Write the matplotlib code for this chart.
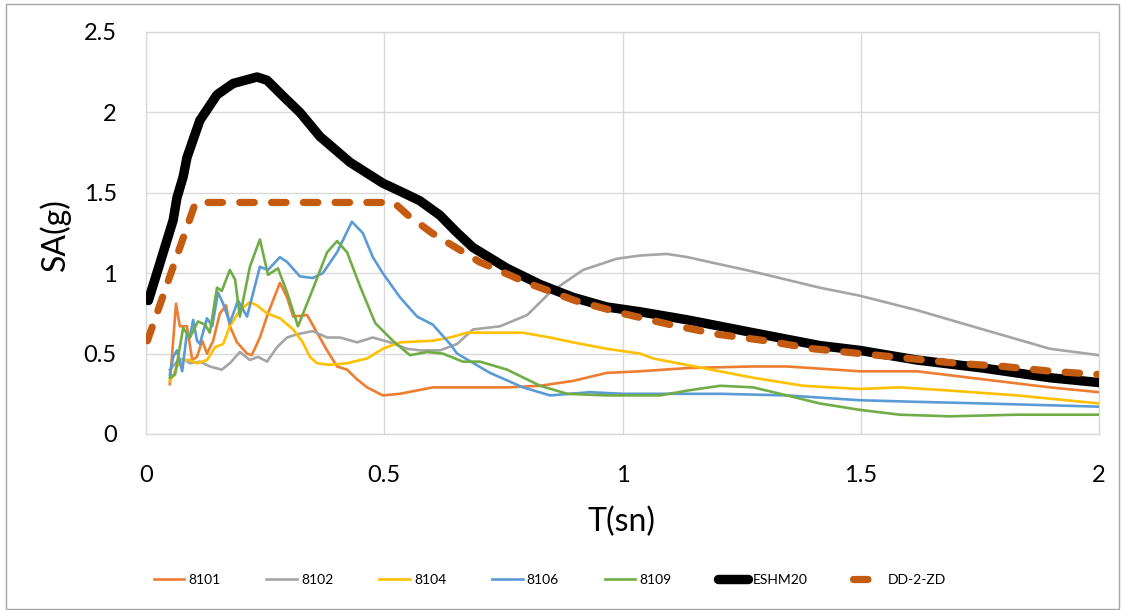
import matplotlib
matplotlib.use("Agg")
import matplotlib.pyplot as plt
from matplotlib.patches import Rectangle

plt.rcParams['font.family'] = ['Lato', 'DejaVu Sans']

# --------------------
# Data
# --------------------
T_8101 = [0.050, 0.063, 0.071, 0.086, 0.097, 0.107, 0.118, 0.128, 0.141, 0.155,
          0.168, 0.176, 0.191, 0.212, 0.222, 0.239, 0.256, 0.281, 0.296, 0.309,
          0.338, 0.359, 0.380, 0.401, 0.422, 0.443, 0.464, 0.497, 0.533, 0.602,
          0.638, 0.758, 0.827, 0.896, 0.967, 1.037, 1.136, 1.274, 1.345, 1.498,
          1.618, 1.757, 1.897, 2.0]
SA_8101 = [0.31, 0.81, 0.67, 0.67, 0.46, 0.48, 0.58, 0.50, 0.58, 0.75,
           0.80, 0.67, 0.57, 0.50, 0.49, 0.60, 0.75, 0.94, 0.85, 0.73,
           0.74, 0.63, 0.52, 0.42, 0.40, 0.34, 0.29, 0.24, 0.25, 0.29,
           0.29, 0.29, 0.30, 0.33, 0.38, 0.39, 0.41, 0.42, 0.42, 0.39,
           0.39, 0.34, 0.29, 0.26]

T_8102 = [0.050, 0.065, 0.078, 0.092, 0.113, 0.134, 0.159, 0.176, 0.197, 0.218,
          0.235, 0.254, 0.275, 0.296, 0.317, 0.350, 0.380, 0.407, 0.443, 0.476,
          0.512, 0.548, 0.575, 0.617, 0.653, 0.686, 0.743, 0.800, 0.848, 0.917,
          0.988, 1.037, 1.093, 1.136, 1.274, 1.414, 1.498, 1.618, 1.757, 1.897,
          2.0]
SA_8102 = [0.40, 0.45, 0.47, 0.44, 0.45, 0.42, 0.40, 0.44, 0.51, 0.46,
           0.48, 0.45, 0.54, 0.60, 0.62, 0.64, 0.60, 0.60, 0.57, 0.60,
           0.57, 0.53, 0.52, 0.52, 0.56, 0.65, 0.67, 0.74, 0.88, 1.02,
           1.09, 1.11, 1.12, 1.10, 1.01, 0.91, 0.86, 0.77, 0.65, 0.53,
           0.49]

T_8104 = [0.050, 0.057, 0.065, 0.078, 0.092, 0.107, 0.128, 0.145, 0.162, 0.176,
          0.197, 0.218, 0.233, 0.254, 0.281, 0.309, 0.329, 0.344, 0.359, 0.386,
          0.422, 0.464, 0.497, 0.533, 0.602, 0.638, 0.674, 0.791, 0.848, 0.896,
          0.967, 1.037, 1.064, 1.169, 1.274, 1.379, 1.498, 1.582, 1.687, 1.828,
          2.0]
SA_8104 = [0.33, 0.36, 0.42, 0.46, 0.46, 0.44, 0.46, 0.54, 0.56, 0.67,
           0.77, 0.82, 0.80, 0.75, 0.72, 0.65, 0.57, 0.48, 0.44, 0.43,
           0.44, 0.47, 0.53, 0.57, 0.58, 0.60, 0.63, 0.63, 0.60, 0.57,
           0.53, 0.50, 0.47, 0.41, 0.35, 0.30, 0.28, 0.29, 0.27, 0.24,
           0.19]

T_8106 = [0.050, 0.057, 0.065, 0.076, 0.086, 0.092, 0.099, 0.107, 0.113, 0.128,
          0.139, 0.151, 0.162, 0.176, 0.193, 0.212, 0.239, 0.256, 0.281, 0.296,
          0.323, 0.350, 0.371, 0.401, 0.432, 0.455, 0.476, 0.497, 0.533, 0.569,
          0.602, 0.638, 0.653, 0.722, 0.791, 0.848, 0.932, 1.001, 1.205, 1.345,
          1.498, 1.618, 1.757, 2.0]
SA_8106 = [0.37, 0.48, 0.52, 0.39, 0.63, 0.60, 0.71, 0.58, 0.56, 0.72,
           0.67, 0.88, 0.81, 0.69, 0.83, 0.73, 1.04, 1.02, 1.10, 1.07,
           0.98, 0.97, 1.00, 1.13, 1.32, 1.25, 1.10, 1.00, 0.85, 0.73,
           0.68, 0.56, 0.50, 0.38, 0.29, 0.24, 0.26, 0.25, 0.25, 0.24,
           0.21, 0.20, 0.19, 0.17]

T_8109 = [0.050, 0.061, 0.071, 0.078, 0.092, 0.109, 0.124, 0.134, 0.149, 0.159,
          0.176, 0.187, 0.197, 0.218, 0.239, 0.256, 0.277, 0.296, 0.319, 0.350,
          0.380, 0.401, 0.422, 0.449, 0.481, 0.518, 0.554, 0.590, 0.623, 0.665,
          0.701, 0.758, 0.827, 0.884, 0.967, 1.079, 1.136, 1.205, 1.274, 1.345,
          1.414, 1.498, 1.582, 1.687, 1.828, 2.0]
SA_8109 = [0.35, 0.37, 0.54, 0.66, 0.60, 0.70, 0.68, 0.63, 0.91, 0.89,
           1.02, 0.96, 0.73, 1.04, 1.21, 0.99, 1.03, 0.88, 0.67, 0.90,
           1.13, 1.20, 1.13, 0.92, 0.69, 0.58, 0.49, 0.51, 0.50, 0.45,
           0.45, 0.40, 0.30, 0.25, 0.24, 0.24, 0.27, 0.30, 0.29, 0.24,
           0.19, 0.15, 0.12, 0.11, 0.12, 0.12]

T_ESHM = [0.005, 0.029, 0.057, 0.065, 0.078, 0.086, 0.113, 0.149, 0.183, 0.233,
          0.254, 0.288, 0.323, 0.365, 0.428, 0.497, 0.533, 0.575, 0.617, 0.650,
          0.686, 0.758, 0.827, 0.896, 0.967, 1.037, 1.136, 1.274, 1.414, 1.498,
          1.618, 1.757, 1.897, 2.0]
SA_ESHM = [0.83, 1.06, 1.33, 1.47, 1.60, 1.72, 1.95, 2.11, 2.18, 2.22,
           2.20, 2.10, 2.00, 1.85, 1.69, 1.56, 1.51, 1.45, 1.36, 1.26,
           1.16, 1.03, 0.93, 0.85, 0.79, 0.76, 0.71, 0.63, 0.55, 0.52,
           0.46, 0.41, 0.35, 0.32]

T_DD = [0.003, 0.104, 0.52, 0.55, 0.6, 0.7, 0.8, 0.9, 1.0, 1.1,
        1.2, 1.3, 1.4, 1.5, 1.6, 1.7, 1.8, 1.9, 2.0]
SA_DD = [0.58, 1.44, 1.44, 1.36, 1.25, 1.07, 0.94, 0.83, 0.75, 0.68,
         0.62, 0.58, 0.53, 0.50, 0.47, 0.44, 0.42, 0.39, 0.37]

records = [
    ("8101", T_8101, SA_8101, "#ED7D31"),
    ("8102", T_8102, SA_8102, "#A5A5A5"),
    ("8104", T_8104, SA_8104, "#FFC000"),
    ("8106", T_8106, SA_8106, "#5B9BD5"),
    ("8109", T_8109, SA_8109, "#70AD47"),
]

fig = plt.figure(figsize=(11.22, 6.10), dpi=100)
ax = fig.add_axes([146 / 1122, 1 - 434 / 610, 953 / 1122, 402 / 610])

for name, t, sa, col in records:
    ax.plot(t, sa, color=col, linewidth=1.9, label=name, zorder=3,
            solid_joinstyle="round")

ax.plot(T_ESHM, SA_ESHM, color="black", linewidth=6.8, label="ESHM20",
        zorder=4, solid_capstyle="round", solid_joinstyle="round")
ax.plot(T_DD, SA_DD, color="#C55A11", linewidth=5.2, label="DD-2-ZD",
        zorder=5, dashes=(2.0, 2.4), dash_capstyle="round")

ax.set_xlim(0, 2)
ax.set_ylim(0, 2.5)
ax.set_xticks([0, 0.5, 1, 1.5, 2])
ax.set_xticklabels(["0", "0.5", "1", "1.5", "2"])
ax.set_yticks([0, 0.5, 1, 1.5, 2, 2.5])
ax.set_yticklabels(["0", "0.5", "1", "1.5", "2", "2.5"])
ax.tick_params(axis="both", length=0, labelsize=17)
ax.tick_params(axis="x", pad=22)
ax.tick_params(axis="y", pad=21)

ax.grid(True, color="#D9D9D9", linewidth=1.0, zorder=0)
ax.set_axisbelow(True)
for sp in ax.spines.values():
    sp.set_color("#D9D9D9")
    sp.set_linewidth(1.0)

fig.text(55 / 1122, 1 - 235 / 610, "SA(g)", rotation=90, ha="center",
         va="center", fontsize=23)
fig.text(622 / 1122, 1 - 522 / 610, "T(sn)", ha="center", va="center",
         fontsize=23)

fig.legend(loc="center", bbox_to_anchor=(0.49, 1 - 580 / 610), ncol=7,
           frameon=False, fontsize=10, handlelength=2.2, handletextpad=0.3,
           columnspacing=3.3)

fig.patches.append(Rectangle((6 / 1122, 1 - 609 / 610), 1113 / 1122, 605 / 610,
                             transform=fig.transFigure, fill=False,
                             edgecolor="#A6A6A6", linewidth=1.0))

fig.savefig("out.png", dpi=100)
